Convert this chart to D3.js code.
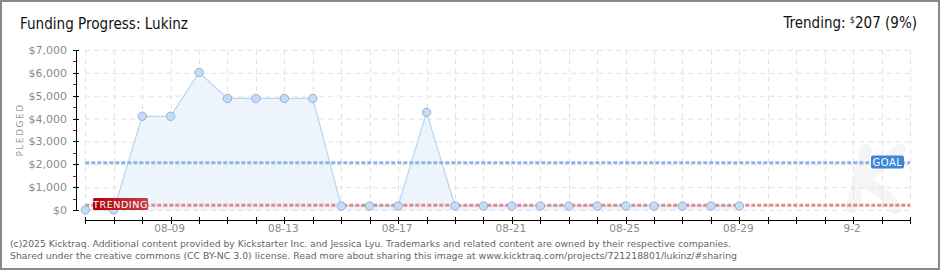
<!DOCTYPE html>
<html>
<head>
<meta charset="utf-8">
<script src="https://cdn.jsdelivr.net/npm/d3@7"></script>
<style>
  body { margin: 0; background: #fff; }
  text { font-family: "DejaVu Sans", sans-serif; }
</style>
</head>
<body>
<div id="chart"></div>
<script>
var width = 940, height = 270;

// chart data
var dates = ["2025-08-06","2025-08-07","2025-08-08","2025-08-09","2025-08-10","2025-08-11",
             "2025-08-12","2025-08-13","2025-08-14","2025-08-15","2025-08-16","2025-08-17",
             "2025-08-18","2025-08-19","2025-08-20","2025-08-21","2025-08-22","2025-08-23",
             "2025-08-24","2025-08-25","2025-08-26","2025-08-27","2025-08-28","2025-08-29"];
var pledged = [0, 0, 4100, 4100, 6020, 4880, 4880, 4880, 4880, 175, 175, 175,
               4270, 175, 175, 175, 175, 175, 175, 175, 175, 175, 175, 175];
var goal = 2070;
var trending = 207;
var yTicks = [0, 1000, 2000, 3000, 4000, 5000, 6000, 7000];
var xLabelDates = ["2025-08-09","2025-08-13","2025-08-17","2025-08-21","2025-08-25","2025-08-29","2025-09-02"];
var xLabels = ["08-09","08-13","08-17","08-21","08-25","08-29","9-2"];

var parse = d3.timeParse("%Y-%m-%d");
var data = dates.map(function(d, i) { return { date: parse(d), value: pledged[i] }; });

var svg = d3.select("#chart").append("svg")
    .attr("width", width).attr("height", height);

// frame
svg.append("rect").attr("x", 1).attr("y", 1)
   .attr("width", width - 2).attr("height", height - 2)
   .attr("fill", "#fff").attr("stroke", "#888").attr("stroke-width", 2);

var x = d3.scaleTime()
    .domain([parse("2025-08-06"), parse("2025-09-04")])
    .range([85.3, 910]);
var y = d3.scaleLinear().domain([0, 7000]).range([210, 50]);

var x0 = 85.3, x1 = 910;
var days = d3.timeDay.range(parse("2025-08-06"), d3.timeDay.offset(parse("2025-09-04"), 1));

// faint watermark "K" drawn as strokes
svg.append("path")
   .attr("d", "M866,150 C860,172 856,190 852,208 M900,150 C880,168 866,176 862,180 C878,188 888,198 896,208")
   .attr("fill", "none").attr("stroke", "#f5f5f5").attr("stroke-width", 12)
   .attr("stroke-linecap", "round");

// grid
svg.append("g").selectAll("line").data(yTicks).enter().append("line")
   .attr("x1", x0).attr("x2", x1)
   .attr("y1", function(d) { return y(d) + 0.5; }).attr("y2", function(d) { return y(d) + 0.5; })
   .attr("stroke", "#e2e2e2").attr("stroke-dasharray", "5,4");
svg.append("g").selectAll("line").data(days).enter().append("line")
   .attr("x1", function(d) { return Math.round(x(d)) + 0.5; })
   .attr("x2", function(d) { return Math.round(x(d)) + 0.5; })
   .attr("y1", 50).attr("y2", 212)
   .attr("stroke", "#e2e2e2").attr("stroke-dasharray", "5,4");

// area + line
var area = d3.area().x(function(d) { return x(d.date); })
    .y0(y(0)).y1(function(d) { return y(d.value); });
var line = d3.line().x(function(d) { return x(d.date); })
    .y(function(d) { return y(d.value); });
svg.append("path").datum(data).attr("d", area).attr("fill", "#edf4fc");
svg.append("path").datum(data).attr("d", line)
   .attr("fill", "none").attr("stroke", "#b7d5f3").attr("stroke-width", 1.2);

// goal and trending lines
svg.append("line").attr("x1", x0).attr("x2", x1)
   .attr("y1", y(goal)).attr("y2", y(goal))
   .attr("stroke", "#8db4e2").attr("stroke-width", 3).attr("stroke-dasharray", "4,2");
svg.append("line").attr("x1", x0).attr("x2", x1)
   .attr("y1", y(trending)).attr("y2", y(trending))
   .attr("stroke", "#de8a8e").attr("stroke-width", 3).attr("stroke-dasharray", "4,2");

// points
svg.append("g").selectAll("circle").data(data).enter().append("circle")
   .attr("cx", function(d) { return x(d.date); })
   .attr("cy", function(d) { return y(d.value); })
   .attr("r", 4.2)
   .attr("fill", "#c4dcf6").attr("stroke", "#93b2d6").attr("stroke-width", 1);

// y axis
var yAxis = svg.append("g");
yAxis.append("line").attr("x1", 76.5).attr("x2", 76.5).attr("y1", 50).attr("y2", 210.5)
   .attr("stroke", "#000");
yAxis.selectAll(".minor").data(d3.range(500, 7000, 1000)).enter().append("line")
   .attr("x1", 73).attr("x2", 76)
   .attr("y1", function(d) { return Math.round(y(d)) + 0.5; })
   .attr("y2", function(d) { return Math.round(y(d)) + 0.5; })
   .attr("stroke", "#d00");
yAxis.selectAll(".major").data(yTicks).enter().append("line")
   .attr("x1", 73).attr("x2", 79)
   .attr("y1", function(d) { return Math.round(y(d)) + 0.5; })
   .attr("y2", function(d) { return Math.round(y(d)) + 0.5; })
   .attr("stroke", "#000");
yAxis.selectAll("text").data(yTicks).enter().append("text")
   .attr("x", 67).attr("y", function(d) { return y(d) + 4; })
   .attr("text-anchor", "end").attr("fill", "#8a8a8a")
   .style("font-size", "11px")
   .text(function(d) { return "$" + d3.format(",")(d); });

svg.append("text").attr("transform", "translate(23,130) rotate(-90)")
   .attr("text-anchor", "middle").attr("fill", "#999")
   .style("font-size", "9px").style("letter-spacing", "1.5px")
   .text("PLEDGED");

// x axis
var xAxis = svg.append("g");
xAxis.append("line").attr("x1", x0).attr("x2", x1 + 0.5).attr("y1", 220.5).attr("y2", 220.5)
   .attr("stroke", "#000");
xAxis.selectAll(".tick").data(days).enter().append("line")
   .attr("x1", function(d) { return Math.round(x(d)) + 0.5; })
   .attr("x2", function(d) { return Math.round(x(d)) + 0.5; })
   .attr("y1", 217).attr("y2", 224)
   .attr("stroke", "#000");
xAxis.selectAll("text").data(xLabelDates).enter().append("text")
   .attr("x", function(d) { return x(parse(d)) - 1; }).attr("y", 232)
   .attr("text-anchor", "middle").attr("fill", "#8a8a8a")
   .style("font-size", "10.5px")
   .text(function(d, i) { return xLabels[i]; });

// badges
var gb = svg.append("g").attr("transform", "translate(871,155.5)");
gb.append("rect").attr("width", 33).attr("height", 13).attr("rx", 2).attr("fill", "#3b86d6");
gb.append("text").attr("x", 16.5).attr("y", 10.5).attr("text-anchor", "middle")
  .attr("fill", "#fff").style("font-size", "10px").style("letter-spacing", "0.5px").text("GOAL");

var grad = svg.append("defs").append("linearGradient").attr("id", "tg");
grad.append("stop").attr("offset", "0%").attr("stop-color", "#b3000b");
grad.append("stop").attr("offset", "100%").attr("stop-color", "#c6414a");
var tb = svg.append("g").attr("transform", "translate(93,198)");
tb.append("rect").attr("width", 55).attr("height", 12).attr("rx", 1.5).attr("fill", "url(#tg)");
tb.append("text").attr("x", 27.5).attr("y", 10).attr("text-anchor", "middle")
  .attr("fill", "#fff").style("font-size", "9.5px").style("letter-spacing", "0.6px").text("TRENDING");

// title
svg.append("text").attr("x", 20).attr("y", 29)
   .attr("textLength", 168).attr("lengthAdjust", "spacingAndGlyphs")
   .style("font-family", "'DejaVu Sans Condensed', 'DejaVu Sans', sans-serif")
   .style("font-size", "16px").attr("fill", "#111")
   .text("Funding Progress: Lukinz");

var tr = svg.append("text").attr("x", 917).attr("y", 28)
   .attr("text-anchor", "end").attr("fill", "#111")
   .style("font-family", "'DejaVu Sans Condensed', 'DejaVu Sans', sans-serif")
   .style("font-size", "15px");
tr.append("tspan").text("Trending: ");
tr.append("tspan").attr("dy", -5).style("font-size", "9px").text("$");
tr.append("tspan").attr("dy", 5).text(trending + " (9%)");

// footer
var foot = svg.append("g").attr("fill", "#666").style("font-size", "9.5px");
foot.append("text").attr("x", 10).attr("y", 247)
   .attr("textLength", 721).attr("lengthAdjust", "spacingAndGlyphs")
   .text("(c)2025 Kicktraq. Additional content provided by Kickstarter Inc. and Jessica Lyu. Trademarks and related content are owned by their respective companies.");
foot.append("text").attr("x", 10).attr("y", 259)
   .attr("textLength", 727).attr("lengthAdjust", "spacingAndGlyphs")
   .text("Shared under the creative commons (CC BY-NC 3.0) license. Read more about sharing this image at www.kicktraq.com/projects/721218801/lukinz/#sharing");
</script>
</body>
</html>
